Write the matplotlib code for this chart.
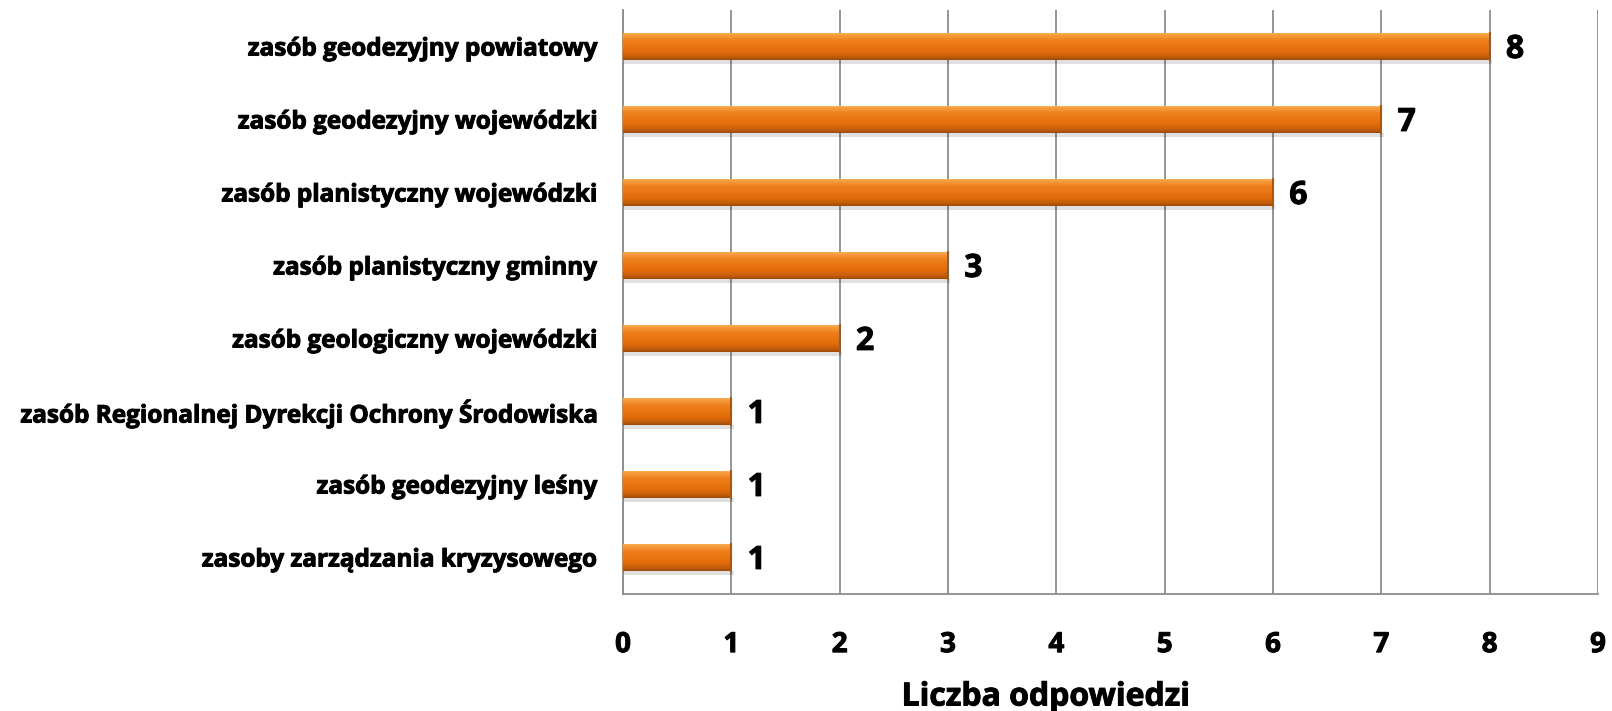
import matplotlib
matplotlib.use("Agg")
import matplotlib.pyplot as plt
import matplotlib.patheffects as pe
import numpy as np
from matplotlib.colors import LinearSegmentedColormap

categories = [
    "zasób geodezyjny powiatowy",
    "zasób geodezyjny wojewódzki",
    "zasób planistyczny wojewódzki",
    "zasób planistyczny gminny",
    "zasób geologiczny wojewódzki",
    "zasób Regionalnej Dyrekcji Ochrony Środowiska",
    "zasób geodezyjny leśny",
    "zasoby zarządzania kryzysowego",
]
values = [8, 7, 6, 3, 2, 1, 1, 1]
xticks = list(range(0, 10))
xlabel = "Liczba odpowiedzi"

plt.rcParams['font.family'] = ['Open Sans', 'DejaVu Sans']
plt.rcParams['font.weight'] = 'bold'

thick = [pe.withStroke(linewidth=0.7, foreground='black')]

fig = plt.figure(figsize=(16.12, 7.11), dpi=100)
ax = fig.add_axes([623/1612, 1-594/711, (1598-623)/1612, (594-10)/711])

y = np.arange(len(categories))
bar_h = 0.37
bars = ax.barh(y, values, height=bar_h, color='#E46C0A', edgecolor='none', zorder=3)

cmap = LinearSegmentedColormap.from_list('o', [
    (0.0, '#FBB45C'), (0.12, '#F59A3A'), (0.3, '#EE7F1C'),
    (0.7, '#E46C0A'), (0.88, '#C65E0B'), (1.0, '#9E4B08')])
grad = np.linspace(0, 1, 64).reshape(-1, 1)
for b in bars:
    x0, y0 = b.get_x(), b.get_y()
    w, h = b.get_width(), b.get_height()
    ax.bar(x0 + w/2, 0.06, width=w + 0.04, bottom=y0 + h, color='#000000',
           alpha=0.12, zorder=2, align='center')
    im = ax.imshow(grad, cmap=cmap, aspect='auto', extent=(x0, x0 + w, y0 + h, y0),
                   zorder=4, interpolation='bilinear')
    im.set_clip_path(b)
    ax.plot([x0 + w, x0 + w], [y0, y0 + h], color='#B0560A', lw=1.5, zorder=5)

for yi, v in zip(y, values):
    ax.text(v + 0.15, yi + 0.04, str(v), va='center', ha='left',
            fontsize=23, fontweight='bold', color='black', path_effects=thick)

ax.set_xlim(0, 9)
ax.set_ylim(len(categories) - 0.5, -0.5)
ax.set_xticks(xticks)
ax.set_xticklabels([str(t) for t in xticks], fontsize=20, fontweight='bold')
ax.set_yticks(y)
ax.set_yticklabels(categories, fontsize=17.5, fontweight='bold')
for t in ax.get_xticklabels() + ax.get_yticklabels():
    t.set_path_effects(thick)
ax.tick_params(axis='both', length=0)
ax.tick_params(axis='x', pad=26)
ax.tick_params(axis='y', pad=19)
ax.xaxis.grid(True, color='#8C8C8C', lw=1.3, zorder=0)
ax.set_axisbelow(True)
for s in ['top', 'right']:
    ax.spines[s].set_visible(False)
for s in ['left', 'bottom']:
    ax.spines[s].set_color('#8C8C8C')
    ax.spines[s].set_linewidth(1.3)
ax.set_xlabel(xlabel, fontsize=23, fontweight='bold')
ax.xaxis.set_label_coords((1046 - 623) / 975, -(697 - 594) / 584)
ax.xaxis.label.set_va('center')
ax.xaxis.label.set_path_effects(thick)

fig.savefig('out.png', dpi=100, facecolor='white')
